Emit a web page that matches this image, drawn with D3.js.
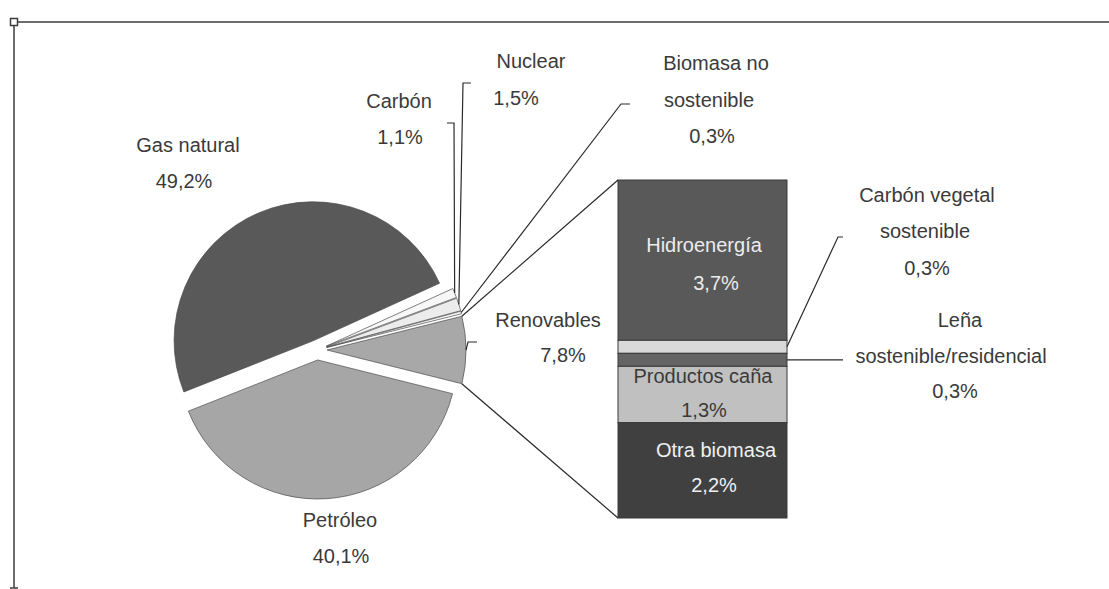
<!DOCTYPE html>
<html>
<head>
<meta charset="utf-8">
<script src="https://cdn.jsdelivr.net/npm/d3@7"></script>
<style>
  html, body { margin: 0; padding: 0; background: #fff; }
  svg { display: block; }
  text { font-family: "Liberation Sans", Arial, sans-serif; font-size: 20px; fill: #3a3a3a; }
</style>
</head>
<body>
<svg id="chart" width="1109" height="589"></svg>
<script>
// ---- Data ----
const pieCategories = ["Renovables", "Petróleo", "Gas natural", "Carbón", "Nuclear", "Biomasa no sostenible"];
const pieValues = [7.8, 40.1, 49.2, 1.1, 1.5, 0.3];
const barCategories = ["Hidroenergía", "Carbón vegetal sostenible", "Leña sostenible/residencial", "Productos caña", "Otra biomasa"];
const barValues = [3.7, 0.3, 0.3, 1.3, 2.2];

// ---- Styles ----
const pieColors = {
  "Renovables": "#a8a8a8", "Petróleo": "#a6a6a6", "Gas natural": "#595959",
  "Carbón": "#f7f7f7", "Nuclear": "#ececec", "Biomasa no sostenible": "#f9f9f9"
};
const barColors = ["#595959", "#d9d9d9", "#646464", "#c0c0c0", "#404040"];
const fmt = v => d3.format(".1f")(v).replace(".", ",") + "%";

const svg = d3.select("#chart");

// ---- Frame ----
const frame = svg.append("g").attr("stroke", "#3c3c3c").attr("stroke-width", 1.5).attr("fill", "none");
frame.append("line").attr("x1", 14).attr("y1", 22).attr("x2", 1109).attr("y2", 22);
frame.append("line").attr("x1", 14).attr("y1", 22).attr("x2", 14).attr("y2", 588);
frame.append("rect").attr("x", 10.5).attr("y", 18.5).attr("width", 7).attr("height", 7).attr("fill", "#fff");
frame.append("line").attr("x1", 10).attr("y1", 588).attr("x2", 18).attr("y2", 588);

// ---- Pie ----
const cx = 317, cy = 350, R = 139, explode = 10;
const renovFrac = pieValues[0] / d3.sum(pieValues);
const start = Math.PI / 2 - renovFrac * Math.PI;
const pie = d3.pie().sort(null).value(d => d).startAngle(start).endAngle(start + 2 * Math.PI);
const arcs = pie(pieValues);
const arc = d3.arc().innerRadius(0).outerRadius(R);
const off = d => { const m = (d.startAngle + d.endAngle) / 2; return [explode * Math.sin(m), -explode * Math.cos(m)]; };
const pt = (d, a, r) => { const o = off(d); return [cx + o[0] + r * Math.sin(a), cy + o[1] - r * Math.cos(a)]; };

svg.append("g").selectAll("path").data(arcs).join("path")
  .attr("transform", d => { const o = off(d); return `translate(${cx + o[0]},${cy + o[1]})`; })
  .attr("d", arc)
  .attr("fill", (d, i) => pieColors[pieCategories[i]])
  .attr("stroke", "#4a4a4a").attr("stroke-width", 0.7);

// ---- Bar (stacked) ----
const barX0 = 618, barX1 = 787, barTop = 180, barBottom = 518;
const y = d3.scaleLinear().domain([0, d3.sum(barValues)]).range([barTop, barBottom]);
const cum = d3.cumsum(barValues);
const segs = barValues.map((v, i) => ({ name: barCategories[i], v, y0: cum[i] - v, y1: cum[i], i }));
svg.append("g").selectAll("rect").data(segs).join("rect")
  .attr("x", barX0).attr("width", barX1 - barX0)
  .attr("y", d => y(d.y0)).attr("height", d => y(d.y1) - y(d.y0))
  .attr("fill", d => barColors[d.i]).attr("stroke", "#3a3a3a").attr("stroke-width", 1);

// ---- Leader / connector lines ----
const line = d3.line();
const lines = svg.append("g").attr("fill", "none").attr("stroke", "#2a2a2a").attr("stroke-width", 1.2);
const aRen = arcs[0];
const pTop = pt(aRen, aRen.startAngle, R), pBot = pt(aRen, aRen.endAngle, R);
lines.append("path").attr("d", line([pTop, [barX0, y(0)]]));
lines.append("path").attr("d", line([pBot, [barX0, y(d3.sum(barValues))]]));
const midPt = d => pt(d, (d.startAngle + d.endAngle) / 2, R);
// Carbón
lines.append("path").attr("d", line([[447, 123], [454, 123], midPt(arcs[3])]));
// Nuclear
lines.append("path").attr("d", line([[471, 83], [463, 83], midPt(arcs[4])]));
// Biomasa no sostenible
lines.append("path").attr("d", line([[630, 104], [621, 104], midPt(arcs[5])]));
// Renovables stub
const rm = midPt(aRen);
lines.append("path").attr("d", line([rm, [rm[0] + 2, 342], [477, 342]]));
// Carbón vegetal sostenible
lines.append("path").attr("d", line([[barX1, (y(segs[1].y0) + y(segs[1].y1)) / 2], [838, 237], [843, 237]]));
// Leña
lines.append("path").attr("d", line([[barX1, (y(segs[2].y0) + y(segs[2].y1)) / 2], [843, (y(segs[2].y0) + y(segs[2].y1)) / 2]]));

// ---- Labels ----
const labels = svg.append("g").attr("text-anchor", "middle");
function label(lines_, x, ys, color) {
  lines_.forEach((t, k) => {
    labels.append("text").attr("x", Array.isArray(x) ? x[k] : x).attr("y", ys[k]).text(t)
      .style("fill", color || "#3a3a3a");
  });
}
label(["Gas natural", fmt(pieValues[2])], [188, 184], [152, 188]);
label(["Carbón", fmt(pieValues[3])], [399, 400], [108, 144]);
label(["Nuclear", fmt(pieValues[4])], [531, 516], [68, 105]);
label(["Biomasa no", "sostenible", fmt(pieValues[5])], [716, 709, 712], [70, 107, 143]);
label(["Renovables", fmt(pieValues[0])], [548, 563], [327, 362]);
label(["Petróleo", fmt(pieValues[1])], [340, 341], [527, 563]);
label([barCategories[0], fmt(barValues[0])], [704, 716], [252, 290], "#ececec");
label(["Carbón vegetal", "sostenible", fmt(barValues[1])], [927, 925, 927], [202, 238, 275]);
label(["Leña", "sostenible/residencial", fmt(barValues[2])], [960, 951, 955], [327, 363, 398]);
label([barCategories[3], fmt(barValues[3])], [703, 704], [383, 417]);
label([barCategories[4], fmt(barValues[4])], [716, 714], [457, 492], "#f0f0f0");
</script>
</body>
</html>
